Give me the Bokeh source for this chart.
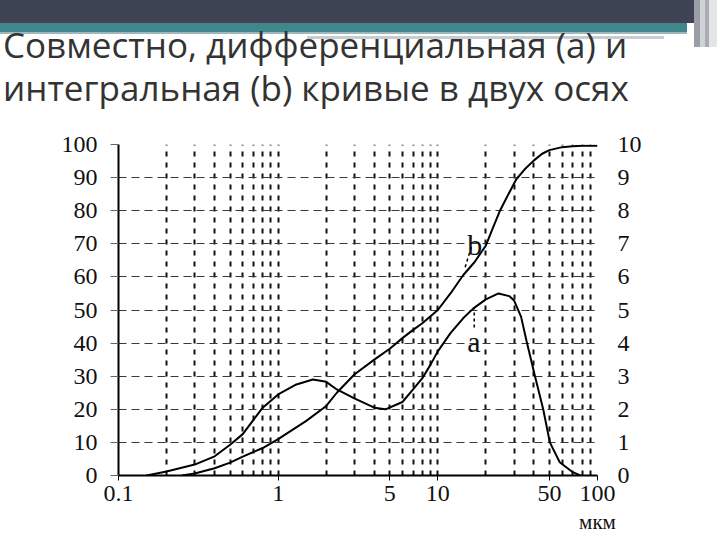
from bokeh.plotting import figure
from bokeh.models import (Range1d, LinearAxis, LogAxis, FixedTicker, CustomJSTickFormatter,
                          Label, Arrow, Div)
from bokeh.layouts import column
from bokeh.embed import file_html
from bokeh.resources import INLINE

# ---------------- data ----------------
title_lines = ["Совместно, дифференциальная (a) и",
               "интегральная (b) кривые в двух осях"]

# differential curve (a), left axis 0..100
x_a = [0.15, 0.2, 0.3, 0.4, 0.5, 0.6, 0.8, 1.0, 1.3, 1.65, 2.0, 2.33, 3.0, 4.0,
       4.7, 6.0, 7.0, 8.0, 9.0, 10, 12, 14.4, 16.7, 20, 24, 28, 30, 33.2, 36,
       40.6, 45.7, 50.3, 58, 70, 78]
y_a = [0, 1.2, 3.3, 5.8, 9.3, 12.5, 20.5, 24.5, 27.5, 29.0, 28.3, 26.0, 23.3,
       20.5, 20.0, 22.2, 26.0, 29.4, 33.5, 37.5, 43.0, 47.5, 50.5, 53.2, 55.0,
       54.2, 52.9, 48.0, 40.5, 30.0, 20.0, 10.0, 4.0, 1.0, 0]

# integral curve (b), left axis 0..100
x_b = [0.25, 0.3, 0.4, 0.5, 0.6, 0.8, 1.0, 1.5, 2.0, 2.33, 3.0, 4.0, 5.0, 6.0,
       7.0, 8.0, 10, 12, 14.4, 17, 20, 22, 24.5, 27, 31, 35, 40, 45, 50, 60,
       70, 80, 100]
y_b = [0, 0.6, 2.2, 3.9, 5.7, 8.3, 11.0, 16.5, 21.0, 25.0, 30.5, 35.0, 38.3,
       41.5, 44.0, 46.0, 50.0, 55.0, 60.5, 64.5, 69.5, 74.5, 80.0, 84.0, 89.5,
       92.5, 95.2, 97.2, 98.3, 99.2, 99.5, 99.6, 99.6]

x_tick_labels = [0.1, 1, 5, 10, 50, 100]
x_grid_values = [0.2, 0.3, 0.4, 0.5, 0.6, 0.7, 0.8, 0.9, 1,
                 2, 3, 4, 5, 6, 7, 8, 9, 10,
                 20, 30, 40, 50, 60, 70, 80, 90, 100]
left_ticks = [0, 10, 20, 30, 40, 50, 60, 70, 80, 90, 100]
right_ticks = [0, 1, 2, 3, 4, 5, 6, 7, 8, 9, 10]
unit_text = "мкм"
unit_at = [100]
curve_names = ["a", "b"]

SERIF = "Liberation Serif"

# ---------------- header (banner + title) ----------------
header_html = f"""<div style="position:relative;left:-8px;top:-5px;width:720px;height:120px;overflow:visible;">
  <div style="position:absolute;left:0;top:0;width:697px;height:21px;background:#3e4354;"></div>
  <div style="position:absolute;left:0;top:21px;width:697px;height:2px;background:#4a3f56;"></div>
  <div style="position:absolute;left:0;top:23px;width:690px;height:9px;background:#3f878c;"></div>
  <div style="position:absolute;left:0;top:32px;width:690px;height:2px;background:#9db8bb;"></div>
  <div style="position:absolute;left:310px;top:36px;width:357px;height:3px;background:#c9cdd1;"></div>
  <div style="position:absolute;left:697px;top:0;width:6px;height:47px;background:#9a9ea6;"></div>
  <div style="position:absolute;left:703px;top:0;width:5px;height:47px;background:#d0d3d6;"></div>
  <div style="position:absolute;left:708px;top:0;width:4px;height:47px;background:#a9adb3;"></div>
  <div style="position:absolute;left:712px;top:0;width:8px;height:47px;background:#e3e5e7;"></div>
  <div style="position:absolute;left:6px;top:27px;font-family:'Open Sans';font-size:35px;line-height:1;color:#333333;white-space:nowrap;">{title_lines[0]}</div>
  <div style="position:absolute;left:6px;top:70px;font-family:'Open Sans';font-size:35px;line-height:1;color:#333333;white-space:nowrap;">{title_lines[1]}</div>
</div>"""
header = Div(text=header_html, width=716, height=120)

# ---------------- figure ----------------
p = figure(width=716, height=407, x_axis_type="log",
           x_range=Range1d(0.1, 100), y_range=Range1d(0, 100),
           output_backend="svg", toolbar_location=None,
           min_border_left=118, min_border_right=119,
           min_border_top=14, min_border_bottom=62)
p.outline_line_color = None
p.background_fill_color = "white"
p.border_fill_color = "white"

p.extra_y_ranges = {"right": Range1d(0, 10)}

# grids
p.xgrid.ticker = FixedTicker(ticks=x_grid_values)
p.xgrid.grid_line_color = "#111111"
p.xgrid.grid_line_dash = "5 6"
p.xgrid.grid_line_width = 2
p.ygrid.ticker = FixedTicker(ticks=left_ticks[1:])
p.ygrid.grid_line_color = "#3a3a3a"
p.ygrid.grid_line_dash = "8 5"
p.ygrid.grid_line_width = 1.2

# bottom axis
xa = p.xaxis[0]
xa.ticker = FixedTicker(ticks=x_tick_labels)
xa.formatter = CustomJSTickFormatter(code="return tick.toString();")
xa.axis_line_width = 2
xa.axis_line_color = "black"
xa.major_tick_out = 5
xa.major_tick_in = 0
xa.major_tick_line_color = "black"
xa.minor_tick_line_color = None
xa.major_label_standoff = 5
xa.major_label_text_font = SERIF
xa.major_label_text_font_size = "24px"
xa.major_label_text_color = "#111111"

# unit caption under the 100 tick (second bottom axis)
ua = LogAxis(ticker=FixedTicker(ticks=unit_at),
             formatter=CustomJSTickFormatter(code=f'return "{unit_text}";'))
ua.axis_line_color = None
ua.major_tick_line_color = None
ua.minor_tick_line_color = None
ua.major_label_standoff = 0
ua.major_label_text_font = SERIF
ua.major_label_text_font_size = "21px"
ua.major_label_text_color = "#111111"
p.add_layout(ua, "below")

# left axis
ya = p.yaxis[0]
ya.ticker = FixedTicker(ticks=left_ticks)
ya.axis_line_width = 2
ya.axis_line_color = "black"
ya.major_tick_out = 8
ya.major_tick_in = 0
ya.major_tick_line_color = "#666666"
ya.minor_tick_line_color = None
ya.major_label_standoff = 13
ya.major_label_text_font = SERIF
ya.major_label_text_font_size = "24px"
ya.major_label_text_color = "#111111"

# right axis
ra = LinearAxis(y_range_name="right", ticker=FixedTicker(ticks=right_ticks))
ra.axis_line_color = None
ra.major_tick_line_color = None
ra.minor_tick_line_color = None
ra.major_label_standoff = 14
ra.major_label_text_font = SERIF
ra.major_label_text_font_size = "24px"
ra.major_label_text_color = "#111111"
p.add_layout(ra, "right")

# curves
p.line(x_a, y_a, line_color="black", line_width=2)
p.line(x_b, y_b, line_color="black", line_width=2)

# curve labels with leaders
p.add_layout(Label(x=15.3, y=69.8, text=curve_names[1], text_font=SERIF,
                   text_font_size="30px", text_align="left",
                   text_baseline="alphabetic", text_color="#111111"))
p.add_layout(Label(x=15.3, y=40.5, text=curve_names[0], text_font=SERIF,
                   text_font_size="30px", text_align="left",
                   text_baseline="alphabetic", text_color="#111111"))
p.add_layout(Arrow(end=None, x_start=16.2, y_start=69.0, x_end=14.8, y_end=62.8,
                   line_color="black", line_width=1.5, line_dash="3 3"))
p.add_layout(Arrow(end=None, x_start=16.9, y_start=44.7, x_end=16.9, y_end=50.5,
                   line_color="black", line_width=1.5, line_dash="3 3"))

layout = column(header, p)
open("out.html", "w").write(file_html(layout, INLINE))
